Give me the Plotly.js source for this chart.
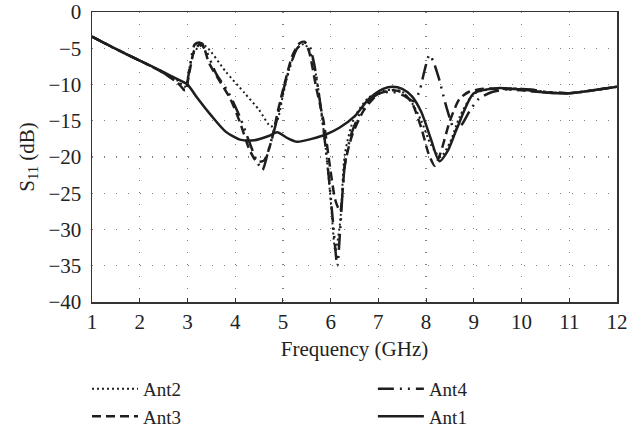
<!DOCTYPE html>
<html>
<head>
<meta charset="utf-8">
<script src="https://cdn.plot.ly/plotly-3.0.1.min.js"></script>
<style>html,body{margin:0;padding:0;background:#fff;}#chart{width:643px;height:428px;}</style>
</head>
<body>
<div id="chart"></div>
<script>
// Ant1 (solid)
const ant1X = [1,1.5,2,2.5,2.8,3,3.2,3.5,3.8,4.1,4.4,4.7,4.88,5.1,5.3,5.6,5.9,6.2,6.5,6.8,7.1,7.3,7.5,7.7,7.9,8.1,8.28,8.45,8.65,9,9.5,10,10.5,11,11.5,12];
const ant1Y = [-3.4,-5.1,-6.7,-8.3,-9.3,-10,-11.8,-14.3,-16.5,-17.6,-17.7,-17.1,-16.6,-17.4,-17.9,-17.5,-16.9,-15.9,-14.4,-12,-10.6,-10.3,-10.6,-11.6,-13.8,-17.5,-20.6,-19.2,-16,-11.2,-10.5,-10.7,-11.1,-11.2,-10.8,-10.3];
// Ant2 (dotted)
const ant2X = [1,1.5,2,2.5,2.8,2.95,3.05,3.15,3.3,3.4,3.8,4.2,4.5,4.75,4.88,5.0,5.15,5.3,5.45,5.6,5.75,5.9,6.0,6.1,6.2,6.3,6.5,6.8,7.1,7.3,7.5,7.7,7.9,8.1,8.3,8.5,8.7,9,9.5,10,10.5,11,11.5,12];
const ant2Y = [-3.4,-5.1,-6.7,-8.3,-9.5,-10.3,-7.5,-5.4,-4.6,-4.8,-8.2,-11.2,-13.5,-15.8,-15,-11.5,-7.5,-5,-4.4,-6,-11,-19,-25.8,-33,-29,-19.5,-14.5,-11.8,-10.9,-10.7,-11,-12.5,-15,-18.3,-20,-18,-14.5,-11.3,-10.5,-10.6,-11,-11.2,-10.8,-10.3];
// Ant3 (dashed)
const ant3X = [1,1.5,2,2.5,2.8,2.95,3.05,3.15,3.3,3.45,3.7,3.9,4.1,4.3,4.45,4.6,4.75,4.9,5.05,5.2,5.35,5.45,5.55,5.7,5.85,6.0,6.1,6.2,6.3,6.45,6.7,7.0,7.3,7.5,7.7,7.9,8.05,8.18,8.3,8.5,8.7,8.9,9.2,9.6,10,10.5,11,11.5,12];
const ant3Y = [-3.4,-5.1,-6.7,-8.4,-9.8,-10.8,-8,-5.2,-4.3,-7,-9.8,-12,-15.2,-19,-20.6,-20.5,-18,-13.5,-9.5,-6,-4.3,-4.1,-5.5,-10.5,-15,-22,-26,-27.5,-21,-17,-13.5,-11.3,-10.8,-11.1,-12.5,-16,-19.5,-21.2,-19.5,-15,-12,-11,-10.6,-10.6,-10.8,-11.1,-11.2,-10.8,-10.3];
// Ant4 (long dash, two dots)
const ant4X = [1,1.5,2,2.5,2.8,2.95,3.05,3.15,3.25,3.4,3.6,3.85,4.1,4.3,4.45,4.57,4.7,4.85,5.0,5.15,5.3,5.45,5.55,5.65,5.8,5.95,6.05,6.14,6.2,6.3,6.45,6.7,7.0,7.3,7.55,7.75,7.87,7.97,8.07,8.15,8.27,8.4,8.5,8.6,8.75,8.9,9.1,9.4,9.8,10.2,10.5,11,11.5,12];
const ant4Y = [-3.4,-5.1,-6.7,-8.4,-9.8,-10.8,-7.5,-4.5,-4.2,-5.5,-8.5,-11,-14.5,-18,-20.5,-21.8,-19,-15.5,-11,-7.5,-5,-4.2,-4.6,-7,-13.5,-22,-29,-35,-30,-21,-16.5,-13,-11.3,-11,-11.6,-12.3,-10.7,-8,-5.9,-6.8,-9.2,-12.5,-14.7,-16.3,-15.5,-13.8,-12,-11,-10.6,-10.7,-11,-11.2,-10.8,-10.3];

const xTicks = [1,2,3,4,5,6,7,8,9,10,11,12];
const yTicks = [0,-5,-10,-15,-20,-25,-30,-35,-40];

const ink = '#1e1e1e';
const serif = 'Liberation Serif, Times New Roman, serif';
const fs = 21;

const traces = [
  {x: ant2X, y: ant2Y, name: 'Ant2', legend: 'legend', legendrank: 1, mode: 'lines',
   line: {color: ink, width: 2, dash: '2px,3px', shape: 'spline', smoothing: 0.7}},
  {x: ant3X, y: ant3Y, name: 'Ant3', legend: 'legend', legendrank: 2, mode: 'lines',
   line: {color: ink, width: 2.5, dash: '9px,5px', shape: 'spline', smoothing: 0.7}},
  {x: ant4X, y: ant4Y, name: 'Ant4', legend: 'legend2', legendrank: 1, mode: 'lines',
   line: {color: ink, width: 2.5, dash: '16px,6px,2px,6px,2px,6px', shape: 'spline', smoothing: 0.7}},
  {x: ant1X, y: ant1Y, name: 'Ant1', legend: 'legend2', legendrank: 2, mode: 'lines',
   line: {color: ink, width: 2.5, shape: 'spline', smoothing: 0.7}}
];

const legendBase = {orientation: 'v', xref: 'paper', yref: 'container',
  xanchor: 'left', yanchor: 'top', y: 0.136, itemwidth: 46, tracegroupgap: 0,
  traceorder: 'normal', bgcolor: 'rgba(0,0,0,0)', borderwidth: 0,
  font: {family: serif, size: 19, color: '#222'}};

const layout = {
  width: 643, height: 428,
  margin: {l: 92, r: 26, t: 12, b: 126},
  paper_bgcolor: '#fff', plot_bgcolor: '#fff',
  font: {family: serif, size: fs, color: '#222'},
  showlegend: true,
  legend: Object.assign({}, legendBase, {x: -0.0095}),
  legend2: Object.assign({}, legendBase, {x: 0.535}),
  xaxis: {range: [1, 12], tickvals: xTicks, ticktext: xTicks.map(String),
          showgrid: true, gridcolor: '#808080', gridwidth: 1.3, griddash: '1.3px,10.7px',
          zeroline: false, showline: true, linecolor: '#333', linewidth: 1.5, mirror: true,
          ticks: 'inside', ticklen: 4, tickcolor: '#333', tickwidth: 1,
          tickfont: {family: serif, size: fs, color: '#222'},
          title: {text: 'Frequency (GHz)', standoff: 8, font: {family: serif, size: fs, color: '#222'}}},
  yaxis: {range: [-40, 0], tickvals: yTicks,
          showgrid: true, gridcolor: '#808080', gridwidth: 1.3, griddash: '1.3px,10.7px',
          zeroline: false, showline: true, linecolor: '#333', linewidth: 1.5, mirror: true,
          ticks: '', ticklabelstandoff: 5,
          tickfont: {family: serif, size: fs, color: '#222'},
          title: {text: 'S<sub>11</sub> (dB)', standoff: 8, font: {family: serif, size: fs, color: '#222'}}}
};

Plotly.newPlot('chart', traces, layout, {staticPlot: true, displayModeBar: false});
</script>
</body>
</html>
